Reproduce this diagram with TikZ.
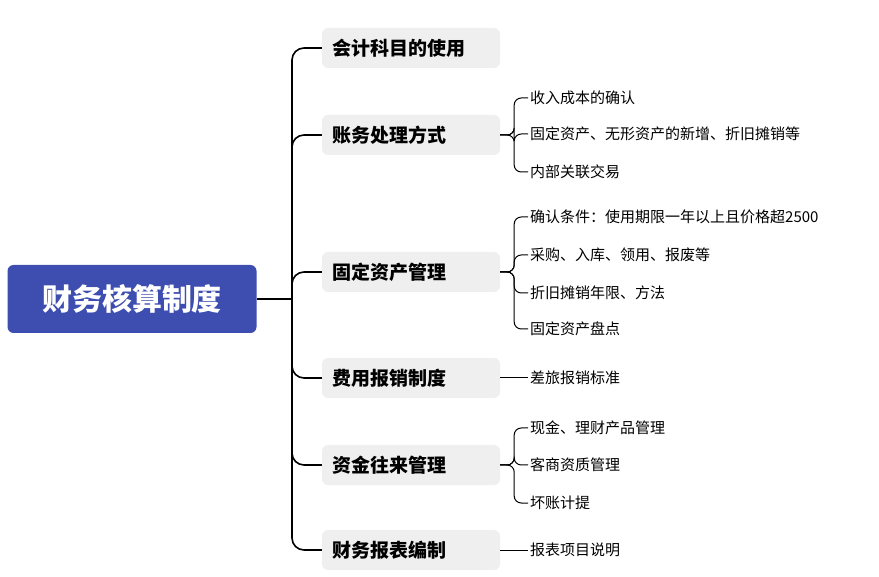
\documentclass[tikz,border=0pt]{standalone}
\usepackage{fontspec}
\setmainfont{Noto Sans CJK SC}
\usetikzlibrary{positioning}
\definecolor{rootblue}{HTML}{3D4DB0}
\definecolor{boxgray}{HTML}{EFEFEF}
\tikzset{
  rootbox/.style = {fill = rootblue, shape = rectangle, rounded corners = 6pt, minimum width = 249pt, minimum height = 68pt, text = white, font = \fontsize{30}{34}\selectfont\bfseries},
  branchbox/.style = {fill = boxgray, shape = rectangle, rounded corners = 6pt, minimum width = 178pt, minimum height = 40pt, font = \fontsize{19}{22}\selectfont\bfseries, inner xsep = 10pt},
  leaf/.style = {anchor = west, inner sep = 2pt, font = \fontsize{15}{18}\selectfont},
  link/.style = {draw, line width = 1.6pt, rounded corners = 12pt},
  twig/.style = {draw, line width = 1pt, rounded corners = 7pt}
}
\begin{document}
\begin{tikzpicture}[x = 1pt, y = -1pt]
\useasboundingbox (0,0) rectangle (879,577);
\node[rootbox] (r) at (132,299) {财务核算制度};
\node[branchbox, text width = 158pt] (b1) at (411,48) {会计科目的使用};
\node[branchbox, text width = 158pt] (b2) at (411,135) {账务处理方式};
\node[branchbox, text width = 158pt] (b3) at (411,272) {固定资产管理};
\node[branchbox, text width = 158pt] (b4) at (411,378) {费用报销制度};
\node[branchbox, text width = 158pt] (b5) at (411,465) {资金往来管理};
\node[branchbox, text width = 158pt] (b6) at (411,550) {财务报表编制};
\node[leaf] (l21) at (528,98)  {收入成本的确认};
\node[leaf] (l22) at (528,134) {固定资产、无形资产的新增、折旧摊销等};
\node[leaf] (l23) at (528,172) {内部关联交易};
\node[leaf] (l31) at (528,217) {确认条件：使用期限一年以上且价格超2500};
\node[leaf] (l32) at (528,255) {采购、入库、领用、报废等};
\node[leaf] (l33) at (528,293) {折旧摊销年限、方法};
\node[leaf] (l34) at (528,329) {固定资产盘点};
\node[leaf] (l41) at (528,378) {差旅报销标准};
\node[leaf] (l51) at (528,428) {现金、理财产品管理};
\node[leaf] (l52) at (528,465) {客商资质管理};
\node[leaf] (l53) at (528,503) {坏账计提};
\node[leaf] (l61) at (528,550) {报表项目说明};
% trunk
\coordinate (t) at (292,299);
\draw[line width = 1.6pt] (r.east) -- (t);
\foreach \b in {b1,b2,b3,b4,b5,b6}
  \path[link] (t) |- (\b.west);
% twigs
\foreach \b/\l in {b2/l21,b2/l22,b2/l23,b3/l31,b3/l32,b3/l33,b3/l34,b5/l51,b5/l52,b5/l53}
  \path[twig] (\b.east) -- ++(14,0) |- (\l.west);
\foreach \b/\l in {b4/l41,b6/l61}
  \draw[line width = 1pt] (\b.east) -- (\l.west);
\end{tikzpicture}
\end{document}
